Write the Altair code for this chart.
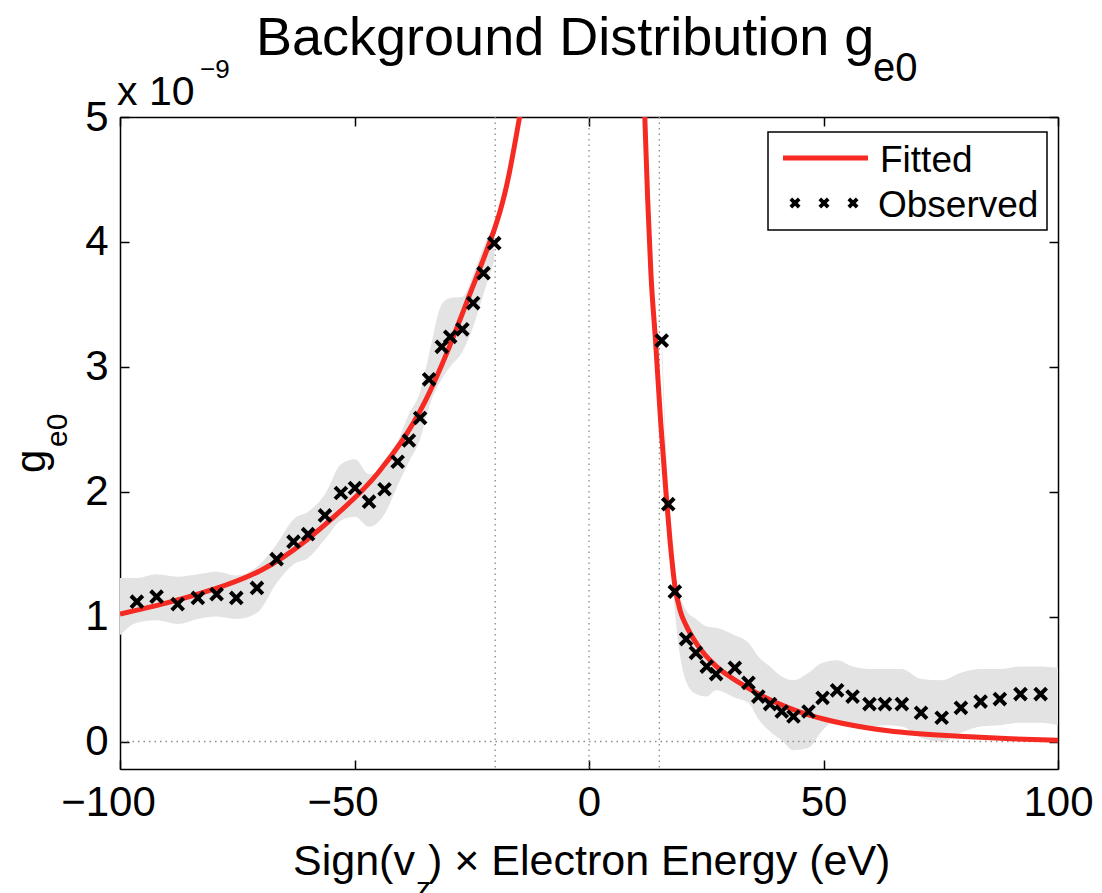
import altair as alt
import pandas as pd

# ---------------- data ----------------
obs_left_x = [-96.4, -92.2, -87.7, -83.4, -79.4, -75.2, -70.8, -66.6, -63.0, -59.9, -56.3, -52.9, -49.9,
              -46.9, -43.6, -40.8, -38.4, -36.0, -34.1, -31.4, -29.6, -27.0, -24.7, -22.5, -20.2]
obs_left_y = [1.12, 1.16, 1.10, 1.15, 1.18, 1.15, 1.23, 1.46, 1.60, 1.66, 1.81, 1.99, 2.03,
              1.92, 2.02, 2.24, 2.41, 2.59, 2.90, 3.16, 3.24, 3.30, 3.51, 3.75, 3.99]
obs_right_x = [15.5, 16.9, 18.3, 20.7, 22.8, 25.1, 27.1, 31.1, 34.0, 36.1, 38.6, 41.1, 43.6, 46.8,
               49.8, 52.9, 56.2, 59.8, 63.1, 66.7, 70.8, 75.2, 79.3, 83.5, 87.6, 92.0, 96.3]
obs_right_y = [3.21, 1.90, 1.20, 0.82, 0.71, 0.60, 0.54, 0.59, 0.47, 0.36, 0.30, 0.24, 0.20, 0.24,
               0.35, 0.41, 0.36, 0.30, 0.30, 0.30, 0.23, 0.19, 0.27, 0.32, 0.34, 0.38, 0.38]

band_left_x = [-100.0] + obs_left_x
band_left_lo = [0.85, 0.95, 0.97, 0.94, 0.98, 1.00, 0.98, 1.03, 1.27, 1.42, 1.47, 1.62, 1.77, 1.80,
                1.72, 1.82, 2.05, 2.24, 2.42, 2.68, 2.90, 3.00, 3.12, 3.32, 3.58, 3.85]
band_left_hi = [1.31, 1.31, 1.34, 1.32, 1.34, 1.36, 1.33, 1.40, 1.58, 1.78, 1.84, 1.98, 2.22, 2.26,
                2.14, 2.18, 2.40, 2.62, 2.80, 3.10, 3.50, 3.55, 3.56, 3.74, 3.96, 4.14]
band_right_x = obs_right_x + [100.0]
band_right_lo = [3.13, 1.82, 1.05, 0.48, 0.38, 0.36, 0.41, 0.35, 0.31, 0.18, 0.08, 0.01, -0.07, -0.05,
                 0.09, 0.17, 0.14, 0.12, 0.13, 0.12, 0.03, 0.00, 0.07, 0.12, 0.13, 0.15, 0.15, 0.13]
band_right_hi = [3.29, 1.98, 1.35, 1.05, 0.98, 0.92, 0.91, 0.85, 0.79, 0.68, 0.60, 0.52, 0.49, 0.55,
                 0.63, 0.65, 0.60, 0.58, 0.58, 0.58, 0.50, 0.49, 0.55, 0.58, 0.58, 0.60, 0.60, 0.59]

fit_left_x = [-100, -90, -80, -70, -60, -50, -45, -40, -35, -30, -25, -20, -17, -14.8, -13.8]
fit_left_y = [1.02, 1.11, 1.22, 1.37, 1.62, 1.95, 2.15, 2.40, 2.72, 3.14, 3.62, 4.12, 4.55, 5.0, 5.2]
fit_right_x = [11.6, 11.9, 12.5, 13.2, 14.2, 15.3, 16.4, 17.3, 18.3, 19.5, 20.7, 23.0, 27.2, 30.0,
               34.3, 40, 45, 50, 59.2, 65, 73.4, 80, 90, 100]
fit_right_y = [5.3, 5.0, 4.35, 3.75, 3.2, 2.55, 2.0, 1.6, 1.25, 1.04, 0.93, 0.78, 0.60, 0.52,
               0.42, 0.31, 0.235, 0.18, 0.11, 0.08, 0.055, 0.04, 0.022, 0.01]

vlines_x = [-20, 0, 15]
hline_y = [0]
x_ticks = [-100, -50, 0, 50, 100]
y_ticks = [0, 1, 2, 3, 4, 5]

# ---------------- tables ----------------
band_df = pd.DataFrame({
    "x": band_left_x + band_right_x,
    "lo": band_left_lo + band_right_lo,
    "hi": band_left_hi + band_right_hi,
    "side": ["L"] * len(band_left_x) + ["R"] * len(band_right_x),
})
fitL_df = pd.DataFrame({"x": fit_left_x, "y": fit_left_y})
fitR_df = pd.DataFrame({"x": fit_right_x, "y": fit_right_y})
obs_df = pd.DataFrame({"x": obs_left_x + obs_right_x, "y": obs_left_y + obs_right_y})
vl_df = pd.DataFrame({"x": vlines_x})
hl_df = pd.DataFrame({"y": hline_y})

FONT = "Liberation Sans"
RED = "#f52a23"
W, H = 938, 652
xs = alt.Scale(domain=[-100, 100], nice=False, zero=False)
ys = alt.Scale(domain=[-0.22, 5], nice=False, zero=False)
TICK_IN = alt.ExprRef(expr="-9")

axis_common = dict(domainColor="black", domainWidth=1.5, tickColor="black", tickWidth=1.5,
                   tickSize=TICK_IN, grid=False, title=None, labelFont=FONT, labelFlush=False,
                   labelFontSize=42, labelColor="black")

ax_bottom = alt.Axis(orient="bottom", values=x_ticks, labelPadding=22,
                     labelOffset={"condition": {"test": "datum.value < 0", "value": -12}, "value": 0},
                     **axis_common)
ax_left = alt.Axis(orient="left", values=y_ticks, labelPadding=21, format="d", **axis_common)
ax_top = alt.Axis(orient="top", values=x_ticks, labels=False, **axis_common)
ax_right = alt.Axis(orient="right", values=y_ticks, labels=False, **axis_common)

band = alt.Chart(band_df).mark_area(color="#e3e3e3", interpolate="monotone", clip=True).encode(
    x=alt.X("x:Q", scale=xs, axis=ax_bottom),
    y=alt.Y("lo:Q", scale=ys, axis=ax_left),
    y2="hi:Q",
    detail="side:N",
)

vl = alt.Chart(vl_df).mark_rule(color="#8a8a8a", strokeWidth=1.3, strokeDash=[1.5, 4]).encode(
    x=alt.X("x:Q", scale=xs, axis=None)
)
hl = alt.Chart(hl_df).mark_rule(color="#8a8a8a", strokeWidth=1.3, strokeDash=[1.5, 4]).encode(
    y=alt.Y("y:Q", scale=ys, axis=None)
)

fitL = alt.Chart(fitL_df).mark_line(color=RED, strokeWidth=5, interpolate="natural", clip=True).encode(
    x=alt.X("x:Q", scale=xs, axis=ax_top),
    y=alt.Y("y:Q", scale=ys, axis=ax_right),
)
fitR = alt.Chart(fitR_df).mark_line(color=RED, strokeWidth=5, interpolate="monotone", clip=True).encode(
    x=alt.X("x:Q", scale=xs, axis=None),
    y=alt.Y("y:Q", scale=ys, axis=None),
)

XSHAPE = "M-1,-1L1,1M1,-1L-1,1"
obs = alt.Chart(obs_df).mark_point(shape=XSHAPE, filled=False, stroke="black", strokeWidth=4,
                                   size=140, opacity=1).encode(
    x=alt.X("x:Q", scale=xs, axis=None),
    y=alt.Y("y:Q", scale=ys, axis=None),
)

one = pd.DataFrame({"a": [0]})


def txt(s, x, y, size, angle=None):
    kw = dict(align="left", baseline="alphabetic", font=FONT, fontSize=size, color="black")
    if angle is not None:
        kw["angle"] = angle
    return alt.Chart(pd.DataFrame({"t": [s]})).mark_text(**kw).encode(
        x=alt.value(x), y=alt.value(y), text="t:N")


# legend
leg_box = alt.Chart(one).mark_rect(fill="white", stroke="black", strokeWidth=1.5).encode(
    x=alt.value(648), x2=alt.value(927), y=alt.value(15), y2=alt.value(113))
leg_line = alt.Chart(one).mark_rule(color=RED, strokeWidth=5).encode(
    x=alt.value(663), x2=alt.value(748), y=alt.value(41))
leg_marks = [
    alt.Chart(one).mark_point(shape=XSHAPE, filled=False, stroke="black", strokeWidth=3.8,
                              size=70, opacity=1).encode(x=alt.value(px), y=alt.value(86))
    for px in (675, 704, 733)
]
leg_t1 = txt("Fitted", 760, 55, 37)
leg_t2 = txt("Observed", 758, 100, 37)

# titles
title_main = txt("Background Distribution g", 136, -62, 54)
title_sub = txt("e0", 753, -36, 40)
exp_base = txt("x 10", -3, -12, 41)
exp_sup = txt("\u22129", 80, -39, 26)
xt1 = txt("Sign(v", 173, 758, 43)
xt2 = txt("z", 296, 781, 30)
xt3 = txt(") \u00d7 Electron Energy (eV)", 308, 758, 43)
yt1 = txt("g", -75, 356, 42, angle=270)
yt2 = txt("e0", -53, 330, 30, angle=270)

chart = alt.layer(
    band, vl, hl, fitL, fitR, obs,
    leg_box, leg_line, *leg_marks, leg_t1, leg_t2,
    title_main, title_sub, exp_base, exp_sup, xt1, xt2, xt3, yt1, yt2,
).resolve_axis(x="independent", y="independent").properties(
    width=W, height=H,
    autosize=alt.AutoSizeParams(type="none"),
    padding={"left": 120, "top": 117, "right": 44, "bottom": 124},
).configure_view(stroke="black", strokeWidth=1.5).configure(font=FONT, background="white")

chart.save("out.html", embed_options={"renderer": "svg", "actions": False})
